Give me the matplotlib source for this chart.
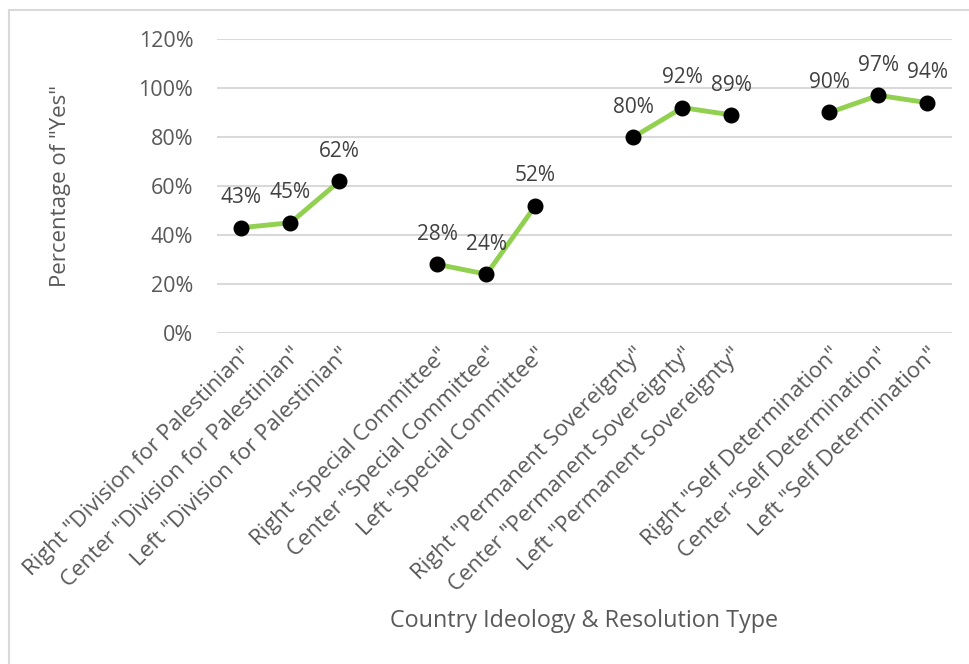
import numpy as np
import matplotlib.pyplot as plt
from matplotlib.patches import Rectangle

# Data: blank categories are the gaps between resolution groups
categories = [
    'Right "Division for Palestinian"', 'Center "Division for Palestinian"', 'Left "Division for Palestinian"', '',
    'Right "Special Committee"', 'Center "Special Committee"', 'Left "Special Committee"', '',
    'Right "Permanent Sovereignty"', 'Center "Permanent Sovereignty"', 'Left "Permanent Sovereignty"', '',
    'Right "Self Determination"', 'Center "Self Determination"', 'Left "Self Determination"',
]
yes_pct = [43, 45, 62, np.nan, 28, 24, 52, np.nan, 80, 92, 89, np.nan, 90, 97, 94]

yticks = [0, 20, 40, 60, 80, 100, 120]

plt.rcParams['font.family'] = ['Open Sans', 'DejaVu Sans']

fig = plt.figure(figsize=(9.7, 6.64), dpi=100)
ax = fig.add_axes([217 / 970, 1 - 333 / 664, 735 / 970, 294 / 664])

x = np.arange(len(categories))
y = np.array(yes_pct, dtype=float)
ax.plot(x, y, color='#92D050', lw=3.5, zorder=3)
ax.plot(x, y, 'o', color='black', ms=10.5, zorder=4)

for xi, yi in zip(x, y):
    if not np.isnan(yi):
        ax.annotate(f"{int(yi)}%", (xi, yi), xytext=(0, 14), textcoords='offset points',
                    ha='center', va='bottom', fontsize=15, color='#404040')

ax.set_xlim(-0.5, len(categories) - 0.5)
ax.set_ylim(0, 120)
ax.set_yticks(yticks)
ax.set_yticklabels([f"{t}%" for t in yticks])
ax.set_xticks(x)
ax.set_xticklabels(categories, rotation=45, ha='right', rotation_mode='anchor')
ax.tick_params(axis='both', length=0, labelsize=15.5, labelcolor='#595959')
ax.tick_params(axis='x', labelsize=16, pad=8)
ax.tick_params(axis='y', pad=17)
ax.grid(axis='y', color='#D9D9D9', lw=1.5)
ax.set_axisbelow(True)
for s in ax.spines.values():
    s.set_visible(False)

ax.set_ylabel('Percentage of "Yes"', fontsize=16, color='#595959')
ax.yaxis.set_label_coords(-0.198, 0.5)
fig.text(584 / 970, 1 - 621 / 664, 'Country Ideology & Resolution Type',
         ha='center', va='center', fontsize=16.8, color='#595959')

# chart border (right/bottom edges fall outside the image)
fig.patches.append(Rectangle((9 / 970, -0.1), 1.2, 1 - 10 / 664 + 0.1,
                             transform=fig.transFigure, fill=False,
                             edgecolor='#D9D9D9', lw=1.5))

fig.savefig('out.png', dpi=100)
